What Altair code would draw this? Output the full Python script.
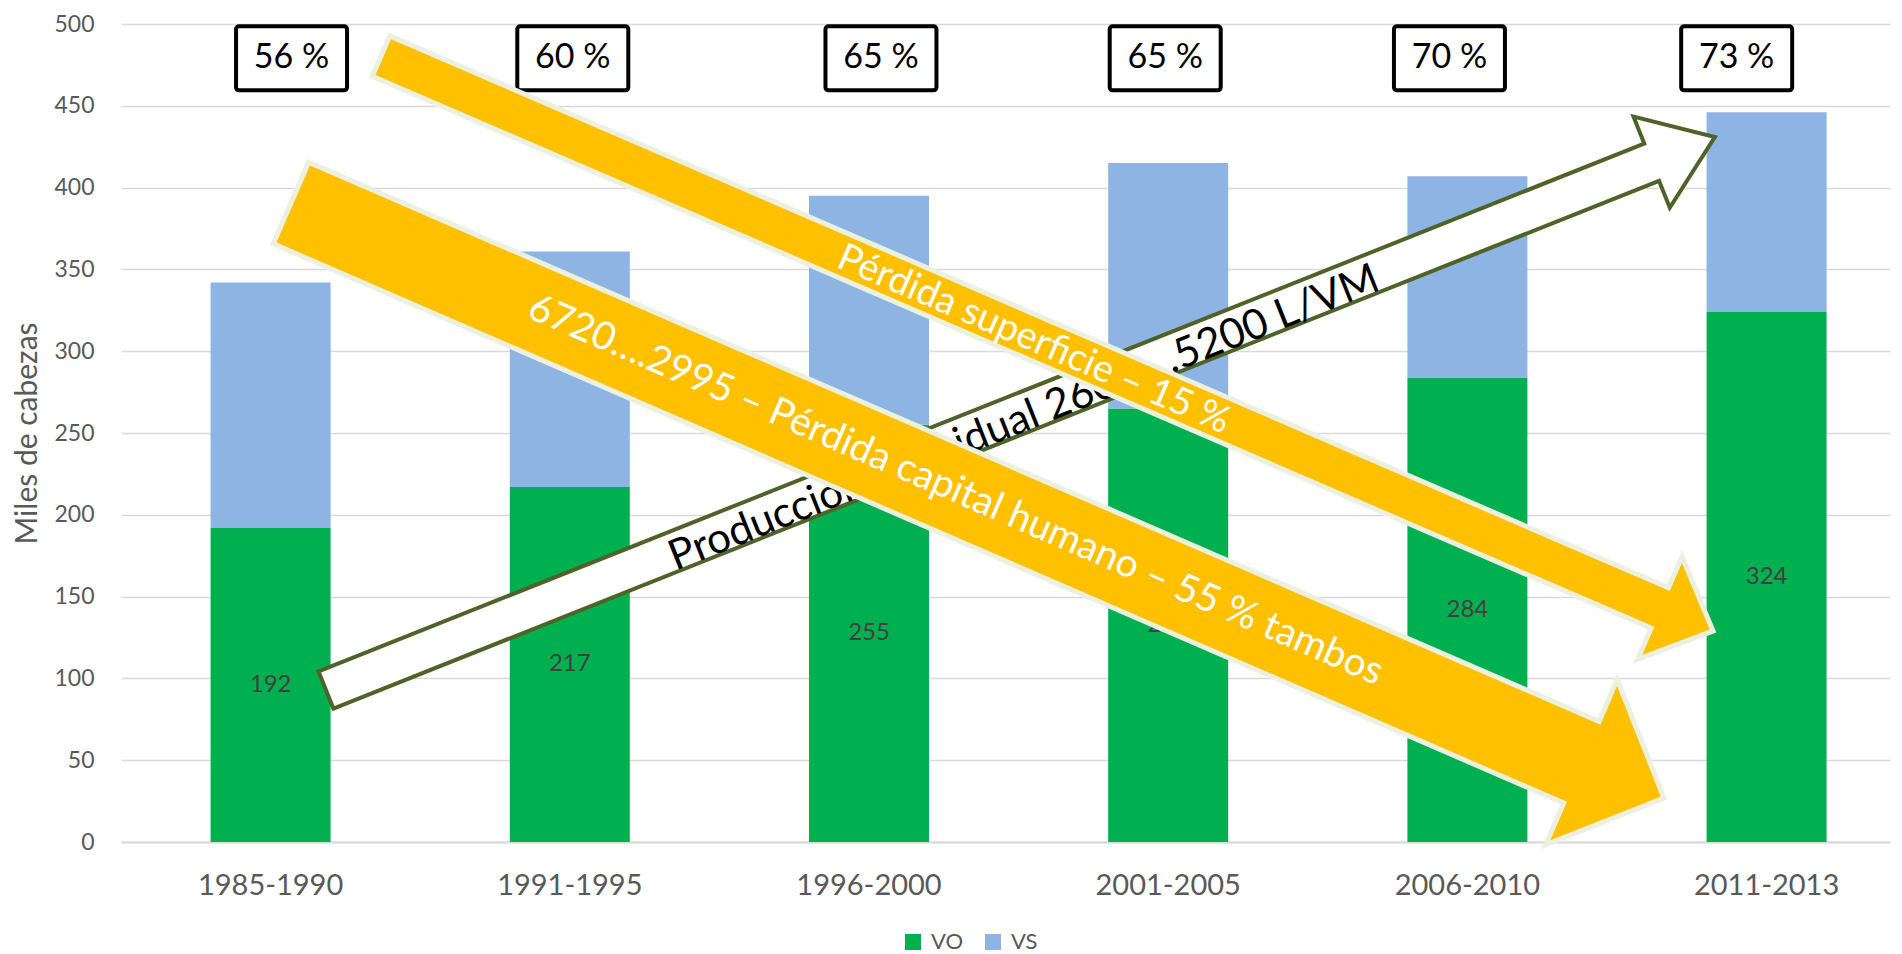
import math
import altair as alt
import pandas as pd

# ---------------- data ----------------
periods = ["1985-1990", "1991-1995", "1996-2000", "2001-2005", "2006-2010", "2011-2013"]
vo_values = [192, 217, 255, 265, 284, 324]
vs_values = [150, 144, 140, 150, 123, 122]
series_names = ["VO", "VS"]

pct_labels = ["56 %", "60 %", "65 %", "65 %", "70 %", "73 %"]
pct_pos = [0.07, 1.01, 2.04, 2.99, 3.94, 4.90]      # along the category axis (category index)
pct_level = [479, 479, 479, 479, 479, 479]          # level in "Miles de cabezas"

arrow_texts = [
    "Producción individual 2600….5200 L/VM",
    "Pérdida superficie – 15 %",
    "6720….2995 – Pérdida capital humano – 55 % tambos",
]
arrow_from_x = [0.185, 0.369, 0.068]
arrow_from_y = [92.9, 480.4, 390.6]
arrow_to_x = [4.827, 4.821, 4.657]
arrow_to_y = [430.9, 129.0, 26.9]
arrow_label_x = [2.518, 2.55, 2.29]
arrow_label_y = [259.2, 306.8, 215.2]

# ---------------- styles / layout ----------------
FONT = "Lato"
GREY = "#595959"
series_colors = ["#00B050", "#8EB4E3"]
W, H = 1769, 818
STEP = 299.2
BARW = 120
UMIN = -0.5
UMAX = UMIN + W / STEP
YMAX = 500
SX = STEP
SY = H / YMAX

shaft_w = [40, 44, 89]
head_w = [98, 112, 180]
head_l = [68, 58, 90]
arrow_fill = ["white", "#FFC000", "#FFC000"]
arrow_stroke = ["#4F6228", "#EBF1DE", "#EBF1DE"]
arrow_stroke_w = [4, 5, 5]
arrow_text_color = ["black", "white", "white"]
arrow_font_size = [42, 38, 39]

PI = 1 - BARW / STEP
PO = ((W / STEP) - (6 - PI)) / 2
ALIGN = (0.5 * STEP - BARW / 2) / (W - STEP * (6 - PI))


def to_px(u, v):
    return ((u - UMIN) * SX, (YMAX - v) * SY)


def from_px(px, py):
    return (px / SX + UMIN, YMAX - py / SY)


y_axis = alt.Axis(title="Miles de cabezas", values=list(range(0, 501, 50)),
                  labelFontSize=23, labelColor=GREY, labelFont=FONT, labelPadding=27,
                  ticks=False, domain=False, gridColor="#D9D9D9", gridWidth=1.5,
                  titleFontSize=30, titleColor=GREY, titleFont=FONT,
                  titleFontWeight="normal", titleX=-94, titleY=409,
                  titleBaseline="middle")
y_scale = alt.Scale(domain=[0, YMAX], nice=False, zero=False)


def xq():
    return alt.X("u:Q", scale=alt.Scale(domain=[UMIN, UMAX], nice=False, zero=False), axis=None)


def yq(field="v"):
    return alt.Y(f"{field}:Q", scale=y_scale, axis=y_axis)


band_scale = alt.Scale(paddingInner=PI, paddingOuter=PO, align=ALIGN, round=False)

# ---------------- bars ----------------
rows = []
for i, p in enumerate(periods):
    rows.append({"period": p, "serie": series_names[0], "v": vo_values[i], "k": 0})
    rows.append({"period": p, "serie": series_names[1], "v": vs_values[i], "k": 1})
bars_df = pd.DataFrame(rows)

bars = alt.Chart(bars_df).mark_bar().encode(
    x=alt.X("period:N", sort=periods, scale=band_scale,
            axis=alt.Axis(title=None, labelFontSize=29, labelColor=GREY, labelFont=FONT,
                          labelPadding=29, ticks=False, domainColor="#D9D9D9", domainWidth=2,
                          labelAngle=0, grid=False)),
    y=alt.Y("v:Q", stack="zero", scale=y_scale, axis=y_axis),
    color=alt.Color("serie:N", scale=alt.Scale(domain=series_names, range=series_colors),
                    legend=alt.Legend(orient="none", legendX=781, legendY=907,
                                      direction="horizontal", title=None,
                                      symbolType="square", symbolSize=256,
                                      symbolStrokeWidth=0, labelFontSize=22,
                                      labelColor=GREY, labelFont=FONT,
                                      labelOffset=7, columnPadding=18)),
    order=alt.Order("k:Q", sort="ascending"),
)

# value labels, centred in the VO segment (x = category index on the continuous scale)
lab_df = pd.DataFrame({"u": list(range(len(periods))), "vo": vo_values})
labels = alt.Chart(lab_df).transform_calculate(v="datum.vo / 2").mark_text(
    font=FONT, fontSize=24, color="#404040"
).encode(x=xq(), y=yq("v"), text=alt.Text("vo:Q"))

# ---------------- percentage boxes ----------------
box_df = pd.DataFrame({"u": pct_pos, "v": pct_level, "t": pct_labels})
boxes = alt.Chart(box_df).mark_rect(
    width=111, height=64, fill="white", stroke="black", strokeWidth=4, cornerRadius=3
).encode(x=xq(), y=yq())
box_text = alt.Chart(box_df).mark_text(font=FONT, fontSize=34, color="black").encode(
    x=xq(), y=yq(), text="t:N"
)

# ---------------- arrows ----------------
arrow_layers = []
for a in range(len(arrow_texts)):
    x0, y0 = to_px(arrow_from_x[a], arrow_from_y[a])
    x1, y1 = to_px(arrow_to_x[a], arrow_to_y[a])
    dx, dy = x1 - x0, y1 - y0
    L = math.hypot(dx, dy)
    ex, ey = dx / L, dy / L
    nx, ny = -ey, ex
    bx, by = x1 - ex * head_l[a], y1 - ey * head_l[a]
    s, h = shaft_w[a] / 2, head_w[a] / 2
    pts = [
        (x0 + nx * s, y0 + ny * s),
        (bx + nx * s, by + ny * s),
        (bx + nx * h, by + ny * h),
        (x1, y1),
        (bx - nx * h, by - ny * h),
        (bx - nx * s, by - ny * s),
        (x0 - nx * s, y0 - ny * s),
    ]
    poly = pd.DataFrame(
        [{"u": from_px(px, py)[0], "v": from_px(px, py)[1], "i": k} for k, (px, py) in enumerate(pts)]
    )
    shape = alt.Chart(poly).mark_line(
        interpolate="linear-closed", fill=arrow_fill[a], stroke=arrow_stroke[a],
        strokeWidth=arrow_stroke_w[a], strokeJoin="miter", strokeMiterLimit=10
    ).encode(x=xq(), y=yq(), order=alt.Order("i:Q"))

    ang = math.degrees(math.atan2(dy, dx)) % 360
    tdf = pd.DataFrame({"u": [arrow_label_x[a]], "v": [arrow_label_y[a]], "t": [arrow_texts[a]]})
    txt = alt.Chart(tdf).mark_text(
        font=FONT, fontSize=arrow_font_size[a], color=arrow_text_color[a], angle=ang,
        baseline="middle", align="center"
    ).encode(x=xq(), y=yq(), text="t:N")
    arrow_layers += [shape, txt]

chart = alt.layer(bars, labels, boxes, box_text, *arrow_layers).resolve_scale(
    x="independent"
).properties(
    width=W, height=H,
    padding={"left": 113, "top": 16, "right": 4, "bottom": 112},
    autosize=alt.AutoSizeParams(type="none"),
).configure(font=FONT).configure_view(stroke=None)

chart.save("out.html", embed_options={"renderer": "svg", "actions": False})
